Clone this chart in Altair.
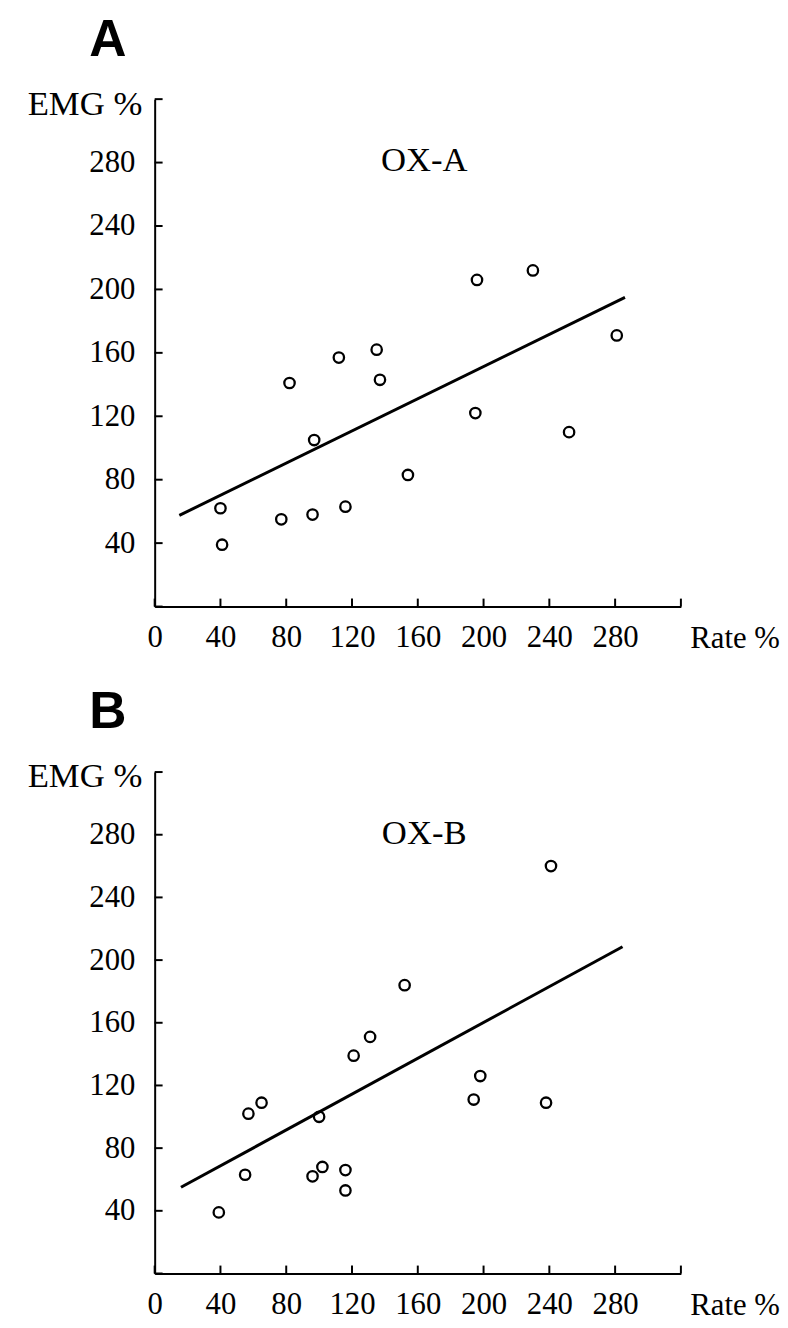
import altair as alt
import pandas as pd

# ---- data ----
rate_a = [40, 41, 82, 77, 96, 97, 112, 116, 135, 137, 154, 196, 195, 230, 252, 281]
emg_a = [62, 39, 141, 55, 58, 105, 157, 63, 162, 143, 83, 206, 122, 212, 110, 171]
fit_rate_a = [15, 286]
fit_emg_a = [57.5, 195]

rate_b = [39, 55, 57, 65, 100, 96, 102, 116, 116, 121, 131, 152, 198, 194, 238, 241]
emg_b = [39, 63, 102, 109, 100, 62, 68, 66, 53, 139, 151, 184, 126, 111, 109, 260]
fit_rate_b = [16, 284.5]
fit_emg_b = [55, 208.5]

tick_values = [0, 40, 80, 120, 160, 200, 240, 280, 320]
x_label_values = [0, 40, 80, 120, 160, 200, 240, 280]
y_label_values = [40, 80, 120, 160, 200, 240, 280]
panel_letters = ["A", "B"]
panel_labels = ["OX-A", "OX-B"]

SERIF = "Liberation Serif"
W = 531


def panel(rates, emgs, fit_r, fit_e, letter, label, H):
    pts = pd.DataFrame({"rate": rates, "emg": emgs})
    fit = pd.DataFrame({"rate": fit_r, "emg": fit_e})
    xt = pd.DataFrame({"rate": tick_values})
    yt = pd.DataFrame({"emg": tick_values})
    lab = pd.DataFrame({"label": [label]})

    xs = alt.Scale(domain=[0, 320], nice=False, zero=False)
    ys = alt.Scale(domain=[0, 320], nice=False, zero=False)

    x_axis = alt.Axis(
        values=x_label_values, ticks=False, grid=False, domain=True,
        domainColor="black", domainWidth=2, labelFont=SERIF, labelFontSize=31,
        labelColor="black", labelPadding=16, labelFlush=False, labelOverlap=False,
        title="Rate %", titleFont=SERIF, titleFontSize=31, titleFontWeight="normal",
        titleColor="black", titleAlign="left", titleBaseline="alphabetic",
        titleX=W + 9, titleY=41, titleAngle=0,
    )
    y_axis = alt.Axis(
        values=y_label_values, ticks=False, grid=False, domain=True,
        domainColor="black", domainWidth=2, labelFont=SERIF, labelFontSize=31,
        labelColor="black", labelPadding=20, labelFlush=False, labelOverlap=False,
        title="EMG %", titleFont=SERIF, titleFontSize=35, titleFontWeight="normal",
        titleColor="black", titleAngle=0, titleAlign="right", titleBaseline="middle",
        titleX=-13, titleY=4,
    )
    X = alt.X("rate:Q", scale=xs, axis=x_axis)
    Y = alt.Y("emg:Q", scale=ys, axis=y_axis)

    points = alt.Chart(pts).mark_point(
        shape="circle", size=110, filled=False, stroke="black", strokeWidth=2.3, opacity=1
    ).encode(x=X, y=Y)
    line = alt.Chart(fit).mark_line(color="black", strokeWidth=3).encode(x=X, y=Y)
    xticks = alt.Chart(xt).mark_rule(color="black", strokeWidth=2).encode(
        x=X, y=alt.value(H), y2=alt.value(H - 8),
    )
    yticks = alt.Chart(yt).mark_rule(color="black", strokeWidth=2).encode(
        y=Y, x=alt.value(0), x2=alt.value(8),
    )
    text = alt.Chart(lab).mark_text(
        font=SERIF, fontSize=35, color="black", align="center", baseline="middle"
    ).encode(
        text="label:N",
        x=alt.value(272),
        y=alt.value(62),
    )
    return alt.layer(points, line, xticks, yticks, text).properties(
        width=W,
        height=H,
        title=alt.TitleParams(
            text=letter, anchor="start", frame="group", font="Liberation Sans",
            fontSize=52, fontWeight="bold", color="black", dx=-66, offset=20,
        ),
    )


pa = panel(rate_a, emg_a, fit_rate_a, fit_emg_a, panel_letters[0], panel_labels[0], 512)
pb = panel(rate_b, emg_b, fit_rate_b, fit_emg_b, panel_letters[1], panel_labels[1], 506)

chart = alt.vconcat(pa, pb, spacing=167, bounds="flush").properties(
    padding={"left": 19, "top": 0, "right": 0, "bottom": 0}
).configure(background="white").configure_view(stroke=None)

chart.save("out.html", embed_options={"renderer": "svg", "actions": False})
